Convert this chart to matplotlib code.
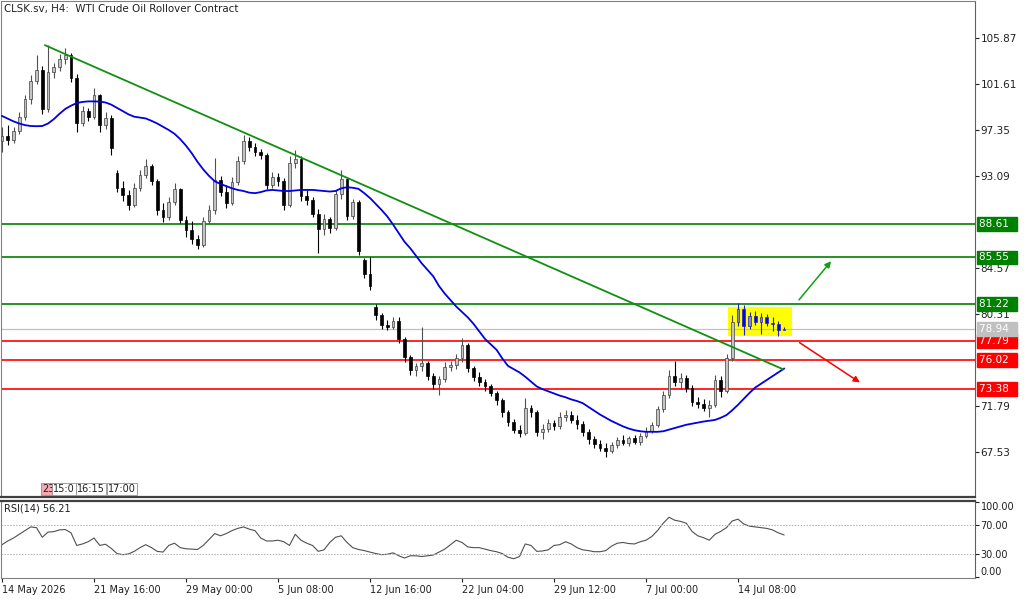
import numpy as np
import matplotlib
matplotlib.use("Agg")
import matplotlib.pyplot as plt
import matplotlib.transforms as mtransforms
from matplotlib.patches import Rectangle

# H4 candles (one candle ~ two bars)
opens = [96.3, 96.8, 96.4, 97.3, 98.6, 100.2, 101.9, 102.9, 99.3, 102.7,
         103.2, 103.9, 104.3, 102.2, 98.0, 99.1, 98.6, 100.6, 97.8, 98.5,
         93.4, 92.0, 91.3, 90.4, 92.0, 93.2, 94.0, 92.6, 89.9, 89.3,
         90.7, 91.9, 89.0, 88.1, 87.3, 86.7, 88.9, 89.9, 92.7, 91.6,
         90.6, 92.5, 94.5, 96.3, 95.8, 95.3, 95.0, 92.3, 93.0, 92.6,
         90.4, 94.3, 94.7, 91.2, 90.9, 89.6, 88.2, 89.1, 88.3, 91.4,
         92.8, 89.4, 90.7, 85.3, 84.0, 81.0, 80.2, 79.3, 79.1, 79.7,
         78.0, 76.3, 75.1, 75.5, 75.8, 74.6, 73.8, 74.3, 75.4, 75.6,
         76.2, 77.4, 75.3, 74.5, 74.0, 73.6, 73.0, 72.3, 71.2, 70.3,
         69.6, 69.3, 71.6, 71.2, 69.4, 69.7, 70.2, 69.9, 70.8, 71.0,
         70.5, 70.1, 69.4, 68.7, 68.3, 67.9, 67.6, 68.2, 68.6, 68.4,
         68.8, 68.5, 69.0, 69.5, 70.0, 71.5, 72.8, 74.6, 74.0, 74.4,
         73.5, 72.2, 72.0, 71.6, 71.9, 74.2, 73.2, 76.2, 79.6, 80.8,
         79.2, 80.1, 79.6, 80.0, 79.5, 79.4, 78.8]
highs = [97.6, 97.8, 97.6, 99.0, 100.6, 102.4, 104.3, 103.3, 105.2, 103.6,
         104.4, 104.9, 104.5, 102.5, 99.6, 99.4, 101.2, 100.7, 99.0, 98.7,
         93.6, 92.6, 91.8, 92.4, 93.6, 94.7, 94.2, 92.8, 90.6, 91.1,
         92.4, 92.0, 89.4, 88.9, 87.6, 89.3, 90.4, 94.8, 93.1, 92.3,
         93.0, 94.9, 96.9, 96.7, 96.1, 95.6, 95.2, 93.5, 93.4, 92.9,
         94.9, 95.5, 94.9, 91.8, 91.1, 90.0, 89.6, 89.3, 91.8, 93.6,
         93.0, 91.0, 90.9, 85.5, 85.6, 81.2, 80.4, 79.8, 80.0, 80.0,
         78.2, 76.5, 75.8, 79.1, 76.0, 74.8, 74.6, 75.9, 76.0, 76.6,
         78.1, 77.6, 75.5, 74.9, 74.3, 73.8, 73.2, 72.5, 71.4, 70.6,
         70.0, 72.5, 71.9, 71.4, 70.1, 70.6, 70.5, 71.2, 71.4, 71.3,
         71.0, 70.4, 69.7, 69.0, 68.6, 68.4, 68.5, 68.9, 69.1, 69.0,
         69.1, 69.3, 69.8, 70.3, 71.8, 73.2, 75.1, 76.0, 74.8, 74.7,
         73.7, 72.6, 72.4, 72.3, 74.7, 74.6, 76.6, 80.2, 81.3, 81.1,
         80.5, 80.6, 80.4, 80.3, 80.0, 79.7, 79.1]
lows = [95.3, 96.0, 96.1, 97.0, 98.3, 99.8, 101.6, 98.8, 99.0, 102.2,
        102.8, 103.5, 101.8, 97.2, 97.7, 98.2, 98.4, 97.2, 97.4, 95.0,
        91.6, 90.8, 89.9, 90.2, 91.7, 92.9, 92.3, 89.5, 88.8, 89.0,
        90.4, 88.7, 87.4, 86.8, 86.3, 86.5, 88.6, 89.6, 91.2, 90.1,
        90.4, 92.3, 94.2, 95.4, 94.9, 94.7, 91.9, 92.0, 92.2, 89.9,
        90.2, 93.8, 90.8, 90.4, 89.3, 86.0, 87.6, 87.8, 88.1, 91.0,
        89.0, 89.1, 85.8, 83.6, 82.5, 79.8, 78.9, 78.8, 78.9, 77.6,
        75.9, 74.7, 74.6, 75.0, 74.2, 73.4, 72.8, 74.0, 75.0, 75.2,
        75.9, 74.9, 74.1, 73.6, 73.2, 72.7, 71.9, 70.8, 69.9, 69.3,
        68.9, 69.1, 70.8, 69.0, 68.7, 69.4, 69.6, 69.7, 70.4, 70.2,
        69.7, 69.0, 68.3, 67.9, 67.6, 67.1, 67.4, 67.9, 68.2, 68.1,
        68.3, 68.2, 68.8, 69.3, 69.8, 71.2, 72.5, 73.6, 73.4, 73.1,
        71.8, 71.6, 71.3, 70.8, 71.7, 72.6, 73.0, 76.0, 79.2, 78.4,
        78.9, 79.3, 78.5, 79.2, 78.7, 78.3, 78.8]
closes = [96.8, 96.4, 97.3, 98.6, 100.2, 101.9, 102.9, 99.3, 102.7, 103.2,
          103.9, 104.3, 102.2, 98.0, 99.1, 98.6, 100.6, 97.8, 98.5, 95.7,
          92.0, 91.3, 90.4, 92.0, 93.2, 94.0, 92.6, 89.9, 89.3, 90.7,
          91.9, 89.0, 88.1, 87.3, 86.7, 88.9, 89.9, 92.7, 91.6, 90.6,
          92.5, 94.5, 96.3, 95.8, 95.3, 95.0, 92.3, 93.0, 92.6, 90.4,
          94.3, 94.7, 91.2, 90.9, 89.6, 88.2, 89.1, 88.3, 91.4, 92.8,
          89.4, 90.7, 86.1, 84.0, 82.9, 80.2, 79.3, 79.1, 79.7, 78.0,
          76.3, 75.1, 75.5, 75.8, 74.6, 73.8, 74.3, 75.4, 75.6, 76.2,
          77.4, 75.3, 74.5, 74.0, 73.6, 73.0, 72.3, 71.2, 70.3, 69.6,
          69.3, 71.6, 71.2, 69.4, 69.7, 70.2, 69.9, 70.8, 71.0, 70.5,
          70.1, 69.4, 68.7, 68.3, 67.9, 67.6, 68.2, 68.6, 68.4, 68.8,
          68.5, 69.0, 69.5, 70.0, 71.5, 72.8, 74.6, 74.0, 74.4, 73.5,
          72.2, 72.0, 71.6, 71.9, 74.2, 73.2, 76.2, 79.6, 80.8, 79.2,
          80.1, 79.6, 80.0, 79.5, 79.4, 78.8, 78.94]

# moving average (blue line)
ma = [98.65, 98.4, 98.15, 97.95, 97.8, 97.72, 97.7, 97.72, 97.95, 98.35,
      98.85, 99.3, 99.6, 99.85, 99.95, 100.0, 100.0, 99.98, 99.9, 99.7,
      99.4, 99.1, 98.8, 98.58, 98.5, 98.42, 98.2, 97.95, 97.65, 97.35,
      97.0, 96.5, 95.9, 95.2, 94.4, 93.7, 93.1, 92.6, 92.35, 92.15,
      91.95, 91.8, 91.7, 91.55, 91.5, 91.6, 91.75, 91.8, 91.75, 91.7,
      91.7, 91.75, 91.8, 91.8, 91.8, 91.75, 91.7, 91.65, 91.7, 91.95,
      92.05, 92.0, 91.9, 91.5, 91.05, 90.5, 89.95, 89.35, 88.6, 87.8,
      87.0, 86.4, 85.7, 85.0, 84.4, 83.8, 82.9, 82.2, 81.6, 81.0,
      80.5, 80.0, 79.4, 78.7, 78.0, 77.5, 77.0, 76.2, 75.5, 75.2,
      74.9, 74.5, 74.05, 73.6, 73.35, 73.15, 72.95, 72.75, 72.6, 72.4,
      72.25, 72.05, 71.7, 71.35, 71.0, 70.7, 70.4, 70.15, 69.9, 69.7,
      69.55, 69.45, 69.4, 69.4, 69.4, 69.45, 69.6, 69.75, 69.9, 70.05,
      70.15, 70.25, 70.35, 70.42, 70.5, 70.7, 70.95, 71.4, 71.9, 72.45,
      73.0, 73.5, 73.85, 74.2, 74.55, 74.9, 75.25]

rsi = [43, 48, 52, 57, 62, 67, 66, 53, 60, 60.6,
       63, 63.5, 59, 42, 44, 47, 52, 42, 43.6, 38,
       31, 29.5, 30.5, 34, 39, 43, 39, 34, 33, 42,
       45, 39, 37.5, 37, 36.5, 42, 50, 58, 55, 58,
       62, 65, 67, 64, 62, 52, 48, 48, 49, 47,
       42, 57, 49, 45, 42, 34, 36, 46, 53, 55,
       46, 39, 36.5, 35, 33, 31, 29.5, 30, 32, 28,
       25, 28, 28, 27, 28, 29, 33, 37, 43, 49,
       46, 40, 39, 39, 37, 35, 33.5, 31, 26, 24,
       27, 44, 42, 34, 34.5, 36, 42, 43, 47, 44,
       39, 36, 35, 33.5, 33.5, 35, 41, 45, 46, 44.5,
       44, 47, 49, 54, 62, 72, 80, 76, 74.5, 72,
       61, 55, 52.5, 49, 57, 61, 66, 75, 77.5, 71,
       68, 67, 66, 65, 63, 59, 56.2]

tick_labels = ["14 May 2026", "21 May 16:00", "29 May 00:00", "5 Jun 08:00",
               "12 Jun 16:00", "22 Jun 04:00", "29 Jun 12:00", "7 Jul 00:00",
               "14 Jul 08:00"]
tick_step = 16
price_ticks = [105.87, 101.61, 97.35, 93.09, 84.57, 80.31, 71.79, 67.53]
resistance = [88.61, 85.55, 81.22]
support = [77.79, 76.02, 73.38]
last_price = 78.94

W, H = 1024, 599
fig = plt.figure(figsize=(W / 100, H / 100), dpi=100)
ax = fig.add_axes([1 / W, 1 - 497 / H, 974 / W, 496 / H])
axr = fig.add_axes([1 / W, 1 - 578 / H, 974 / W, 77 / H])

n = len(closes)
x = np.arange(n)
o = np.array(opens); c = np.array(closes)
hi = np.array(highs); lo = np.array(lows)

# yellow consolidation box
ax.add_patch(Rectangle((126.3, 78.28), 11.1, 2.68, facecolor="#ffff00",
                       edgecolor="none", zorder=1))

# horizontal levels
for lv in resistance:
    ax.axhline(lv, color="#008000", lw=1.2, zorder=2)
for lv in support:
    ax.axhline(lv, color="#ff0000", lw=1.2, zorder=2)
ax.axhline(last_price, color="#c0c0c0", lw=0.9, zorder=2)

# candles
up = c >= o
inbox = x >= 128
wick_col = np.where(inbox, "#2020d0", np.where(up, "#505050", "#000000"))
ax.vlines(x, lo, hi, colors=wick_col, lw=0.8, zorder=3)
body_bot = np.minimum(o, c)
body_h = np.maximum(np.abs(c - o), 0.08)
face = np.where(inbox, np.where(up, "#8888c8", "#0000ff"),
                np.where(up, "#c4c4c4", "#000000"))
edge = np.where(inbox, "#2020d0", np.where(up, "#404040", "#000000"))
ax.bar(x, body_h, bottom=body_bot, width=0.48, color=face, edgecolor=edge,
       linewidth=0.5, zorder=4)

# moving average and trend line
ax.plot(x, ma, color="#0000e0", lw=1.3, zorder=5)
ax.plot([7.5, 135.8], [105.2, 75.2], color="#109010", lw=1.3, zorder=5)

# scenario arrows
ax.annotate("", xy=(144.5, 85.4), xytext=(138.3, 81.42),
            arrowprops=dict(arrowstyle="-|>", color="#10a010", lw=1.1,
                            mutation_scale=9), zorder=6)
ax.annotate("", xy=(149.6, 73.83), xytext=(138.3, 77.8),
            arrowprops=dict(arrowstyle="-|>", color="#ff0000", lw=1.1,
                            mutation_scale=9), zorder=6)

x0 = -1 / 5.75
x1 = (975 - 2) / 5.75
ax.set_xlim(x0, x1)
ax.set_ylim(105.87 - 459 / 10.798, 105.87 + 37 / 10.798)
ax.yaxis.tick_right()
ax.set_yticks(price_ticks)
ax.set_yticklabels([f"{p:.2f}" for p in price_ticks])
ax.tick_params(axis="y", direction="out", length=3, width=0.8, pad=1,
               labelsize=7.5, colors="#202020")
ax.set_xticks([])
for s in ["left", "top"]:
    ax.spines[s].set_color("#808080")
    ax.spines[s].set_linewidth(0.8)
ax.spines["right"].set_color("#606060")
ax.spines["bottom"].set_color("#404040")
ax.spines["bottom"].set_linewidth(1.6)

# coloured price labels on the axis
tr = mtransforms.blended_transform_factory(ax.transAxes, ax.transData)
for lv in resistance:
    ax.text(1.004, lv, f"{lv:.2f}  ", transform=tr, ha="left", va="center",
            fontsize=7.5, color="white", zorder=10, clip_on=False,
            bbox=dict(boxstyle="square,pad=0.18", fc="#008000", ec="#008000"))
for lv in support:
    ax.text(1.004, lv, f"{lv:.2f}  ", transform=tr, ha="left", va="center",
            fontsize=7.5, color="white", zorder=10, clip_on=False,
            bbox=dict(boxstyle="square,pad=0.18", fc="#ff0000", ec="#ff0000"))
ax.text(1.004, last_price, f"{last_price:.2f}  ", transform=tr, ha="left",
        va="center", fontsize=7.5, color="white", zorder=10, clip_on=False,
        bbox=dict(boxstyle="square,pad=0.18", fc="#c0c0c0", ec="#c0c0c0"))

fig.text(4 / W, 1 - 9 / H, "CLSK.sv, H4:  WTI Crude Oil Rollover Contract",
         fontsize=7.4, color="#202020", va="center", ha="left")

# little time-scroll widget
wx = [(42, "23", "#f4a8b0"), (53, "15:0", "white"), (77, "16:15", "white"),
      (108, "17:00", "white")]
for px, lab, fc in wx:
    fig.text(px / W, 1 - 489 / H, lab, fontsize=7, color="#202020",
             va="center", ha="left",
             bbox=dict(boxstyle="square,pad=0.15", fc=fc, ec="#909090", lw=0.6))

# RSI panel
axr.plot(x, rsi, color="#505050", lw=0.8)
axr.axhline(70, color="#b0b0b0", lw=0.7, ls=(0, (1.5, 1.5)))
axr.axhline(30, color="#b0b0b0", lw=0.7, ls=(0, (1.5, 1.5)))
axr.set_xlim(x0, x1)
axr.set_ylim(-2, 102)
axr.yaxis.tick_right()
axr.set_yticks([100, 70, 30, 0])
labs = axr.set_yticklabels(["100.00", "70.00", "30.00", "0.00"])
labs[0].set_va("top")
labs[-1].set_va("bottom")
axr.tick_params(axis="y", direction="out", length=3, width=0.8, pad=1,
                labelsize=7, colors="#202020")
ticks = np.arange(0, len(tick_labels) * tick_step, tick_step)
axr.set_xticks(ticks)
axr.set_xticklabels(tick_labels, ha="left")
axr.tick_params(axis="x", direction="out", length=3, width=0.8, pad=2,
                labelsize=7, colors="#202020")
for s in ["left", "bottom"]:
    axr.spines[s].set_color("#808080")
    axr.spines[s].set_linewidth(0.8)
axr.spines["right"].set_color("#606060")
axr.spines["top"].set_color("#404040")
axr.spines["top"].set_linewidth(1.6)
axr.text(3 / 974, 0.9, "RSI(14) 56.21", transform=axr.transAxes, fontsize=7,
         color="#202020", va="center", ha="left")

fig.savefig("out.png", dpi=100)
